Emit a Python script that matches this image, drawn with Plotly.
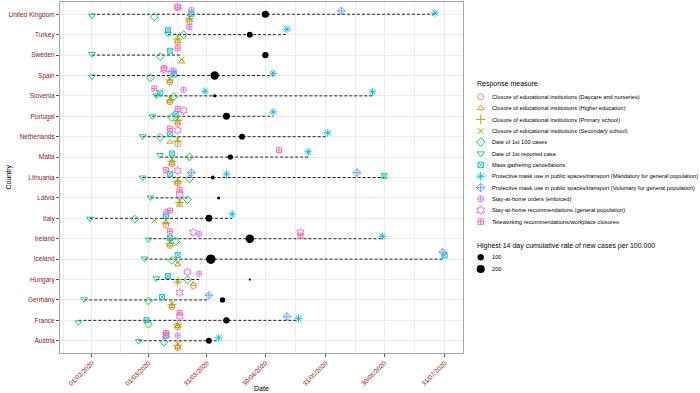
import numpy as np
import pandas as pd
import plotly.graph_objects as go

# ---------------- DATA ----------------
# countries from bottom to top
COUNTRIES = ["Austria", "France", "Germany", "Hungary", "Iceland", "Ireland", "Italy",
             "Latvia", "Lithuania", "Malta", "Netherlands", "Portugal", "Slovenia",
             "Spain", "Sweden", "Turkey", "United Kingdom"]

TICK_DATES = ["2020-02-01", "2020-03-01", "2020-03-31", "2020-04-30",
              "2020-05-31", "2020-06-30", "2020-07-31"]

MEASURES = [
    "Closure of educational institutions (Daycare and nurseries)",
    "Closure of educational institutions (Higher education)",
    "Closure of educational institutions (Primary school)",
    "Closure of educational institutions (Secondary school)",
    "Date of 1st 100 cases",
    "Date of 1st reported case",
    "Mass gathering cancellations",
    "Protective mask use in public spaces/transport (Mandatory for general population)",
    "Protective mask use in public spaces/transport (Voluntary for general population)",
    "Stay-at-home orders (enforced)",
    "Stay-at-home recommendations (general population)",
    "Teleworking recommendations/workplace closures",
]

DAYCARE = [("United Kingdom", "2020-03-22"), ("Turkey", "2020-03-16"), ("Spain", "2020-03-12"),
           ("Slovenia", "2020-03-12"), ("Portugal", "2020-03-16"), ("Netherlands", "2020-03-16"),
           ("Malta", "2020-03-13"), ("Lithuania", "2020-03-16"), ("Italy", "2020-03-10"),
           ("Ireland", "2020-03-12"), ("Hungary", "2020-03-24"), ("Germany", "2020-03-13"),
           ("France", "2020-03-16"), ("Austria", "2020-03-16")]
DAYCARE_JITTER = [-0.36, -0.37, -0.33, -0.31, -0.36, -0.37, -0.34, -0.28, -0.35, -0.34, -0.32, -0.36, -0.33, -0.35]

HIGHER_ED = [("United Kingdom", "2020-03-22"), ("Turkey", "2020-03-16"), ("Sweden", "2020-03-18"),
             ("Spain", "2020-03-12"), ("Slovenia", "2020-03-12"), ("Portugal", "2020-03-16"),
             ("Netherlands", "2020-03-12"), ("Malta", "2020-03-13"), ("Lithuania", "2020-03-16"),
             ("Latvia", "2020-03-17"), ("Italy", "2020-03-10"), ("Ireland", "2020-03-12"),
             ("Iceland", "2020-03-16"), ("Hungary", "2020-03-24"), ("Germany", "2020-03-13"),
             ("France", "2020-03-16"), ("Austria", "2020-03-16")]
HIGHER_ED_JITTER = [-0.27, -0.30, -0.32, -0.27, -0.25, -0.30, -0.25, -0.30, -0.24, -0.34, -0.20, -0.28, -0.26, -0.23, -0.30, -0.28, -0.30]

PRIMARY = [("United Kingdom", "2020-03-22"), ("Turkey", "2020-03-16"), ("Spain", "2020-03-12"),
           ("Slovenia", "2020-03-12"), ("Portugal", "2020-03-16"), ("Netherlands", "2020-03-16"),
           ("Malta", "2020-03-13"), ("Lithuania", "2020-03-16"), ("Latvia", "2020-03-17"),
           ("Italy", "2020-03-10"), ("Ireland", "2020-03-12"), ("Hungary", "2020-03-16"),
           ("Germany", "2020-03-13"), ("France", "2020-03-16"), ("Austria", "2020-03-16")]
PRIMARY_JITTER = [-0.22, -0.22, -0.22, -0.20, -0.20, -0.22, -0.20, -0.20, -0.22, -0.22, -0.22, -0.12, -0.22, -0.20, -0.22]

SECONDARY = [("United Kingdom", "2020-03-22"), ("Turkey", "2020-03-16"), ("Sweden", "2020-03-18"),
             ("Spain", "2020-03-12"), ("Slovenia", "2020-03-12"), ("Portugal", "2020-03-16"),
             ("Netherlands", "2020-03-16"), ("Malta", "2020-03-13"), ("Lithuania", "2020-03-16"),
             ("Latvia", "2020-03-17"), ("Italy", "2020-03-04"), ("Ireland", "2020-03-12"),
             ("Iceland", "2020-03-16"), ("Hungary", "2020-03-16"), ("Germany", "2020-03-13"),
             ("France", "2020-03-16"), ("Austria", "2020-03-16")]
SECONDARY_JITTER = [-0.17, -0.06, -0.22, -0.17, -0.13, -0.10, -0.12, -0.10, -0.07, -0.14, -0.12, -0.15, -0.15, -0.12, -0.18, -0.20, -0.16]

FIRST_100 = [("United Kingdom", "2020-03-04"), ("Turkey", "2020-03-19"), ("Sweden", "2020-03-07"),
             ("Spain", "2020-03-02"), ("Slovenia", "2020-03-14"), ("Portugal", "2020-03-13"),
             ("Netherlands", "2020-03-07"), ("Malta", "2020-03-22"), ("Lithuania", "2020-03-22"),
             ("Latvia", "2020-03-21"), ("Italy", "2020-02-23"), ("Ireland", "2020-03-15"),
             ("Iceland", "2020-03-13"), ("Hungary", "2020-03-21"), ("Germany", "2020-03-01"),
             ("France", "2020-03-01"), ("Austria", "2020-03-09")]
FIRST_100_JITTER = [-0.13, 0.00, -0.08, -0.12, -0.03, -0.06, -0.04, 0.01, -0.07, -0.09, -0.04, -0.13, -0.06, -0.02, -0.05, -0.18, -0.07]

FIRST_CASE = [("United Kingdom", "2020-02-01"), ("Turkey", "2020-03-11"), ("Sweden", "2020-02-01"),
              ("Spain", "2020-02-01"), ("Slovenia", "2020-03-05"), ("Portugal", "2020-03-03"),
              ("Netherlands", "2020-02-27"), ("Malta", "2020-03-07"), ("Lithuania", "2020-02-27"),
              ("Latvia", "2020-03-02"), ("Italy", "2020-01-31"), ("Ireland", "2020-03-01"),
              ("Iceland", "2020-02-28"), ("Hungary", "2020-03-05"), ("Germany", "2020-01-28"),
              ("France", "2020-01-25"), ("Austria", "2020-02-25")]
FIRST_CASE_JITTER = [-0.07, 0.05, 0.05, -0.05, 0.02, 0.00, 0.02, 0.10, 0.00, 0.02, -0.02, -0.04, 0.03, 0.06, 0.03, -0.10, -0.02]

MASS_GATHERING = [("United Kingdom", "2020-03-23"), ("Turkey", "2020-03-11"), ("Sweden", "2020-03-12"),
                  ("Spain", "2020-03-14"), ("Slovenia", "2020-03-07"), ("Portugal", "2020-03-15"),
                  ("Netherlands", "2020-03-12"), ("Malta", "2020-03-13"), ("Lithuania", "2020-03-12"),
                  ("Lithuania", "2020-06-30"), ("Italy", "2020-03-10"), ("Ireland", "2020-03-12"),
                  ("Iceland", "2020-03-16"), ("Iceland", "2020-07-31"), ("Hungary", "2020-03-11"),
                  ("Germany", "2020-03-08"), ("France", "2020-02-29"), ("Austria", "2020-03-10")]
MASS_GATHERING_JITTER = [0.02, 0.22, 0.21, 0.04, 0.13, 0.10, 0.12, 0.18, 0.16, 0.07, 0.09, 0.04, 0.20, 0.18, 0.17, 0.15, 0.01, 0.25]

MASK_MANDATORY = [("United Kingdom", "2020-07-26"), ("Turkey", "2020-05-11"), ("Spain", "2020-05-04"),
                  ("Slovenia", "2020-03-30"), ("Slovenia", "2020-06-24"), ("Portugal", "2020-05-04"),
                  ("Netherlands", "2020-06-01"), ("Malta", "2020-05-22"), ("Lithuania", "2020-04-10"),
                  ("Italy", "2020-04-13"), ("Ireland", "2020-06-29"), ("France", "2020-05-17"),
                  ("Austria", "2020-04-06")]
MASK_MANDATORY_JITTER = [0.06, 0.27, 0.11, 0.23, 0.20, 0.21, 0.19, 0.26, 0.17, 0.21, 0.12, 0.10, 0.14]

MASK_VOLUNTARY = [("United Kingdom", "2020-06-08"), ("Spain", "2020-03-13"), ("Lithuania", "2020-03-23"),
                  ("Lithuania", "2020-06-16"), ("Iceland", "2020-07-30"), ("Germany", "2020-04-01"),
                  ("France", "2020-05-11")]
MASK_VOLUNTARY_JITTER = [0.16, 0.19, 0.24, 0.24, 0.34, 0.23, 0.18]

STAY_HOME_ORDERS = [("United Kingdom", "2020-03-23"), ("Spain", "2020-03-14"), ("Slovenia", "2020-03-19"),
                    ("Italy", "2020-03-10"), ("Ireland", "2020-03-27"), ("Hungary", "2020-03-27"),
                    ("Austria", "2020-03-16")]
STAY_HOME_ORDERS_JITTER = [0.21, 0.24, 0.30, 0.31, 0.23, 0.29, 0.25]

STAY_HOME_REC = [("United Kingdom", "2020-03-16"), ("Spain", "2020-03-09"), ("Portugal", "2020-03-19"),
                 ("Netherlands", "2020-03-16"), ("Lithuania", "2020-03-16"), ("Latvia", "2020-03-17"),
                 ("Ireland", "2020-03-24"), ("Ireland", "2020-05-18"), ("Hungary", "2020-03-21"),
                 ("Germany", "2020-03-17"), ("France", "2020-03-17"), ("Austria", "2020-03-10")]
STAY_HOME_REC_JITTER = [0.37, 0.29, 0.29, 0.32, 0.33, 0.19, 0.31, 0.31, 0.37, 0.36, 0.21, 0.28]

TELEWORKING = [("United Kingdom", "2020-03-16"), ("Turkey", "2020-03-22"), ("Sweden", "2020-03-16"),
               ("Spain", "2020-03-09"), ("Slovenia", "2020-03-04"), ("Portugal", "2020-03-16"),
               ("Netherlands", "2020-03-12"), ("Malta", "2020-05-07"), ("Lithuania", "2020-03-10"),
               ("Latvia", "2020-03-17"), ("Italy", "2020-03-12"), ("Ireland", "2020-03-12"),
               ("Ireland", "2020-05-18"), ("France", "2020-03-17"), ("Austria", "2020-03-10")]
TELEWORKING_JITTER = [0.32, 0.38, 0.33, 0.37, 0.36, 0.36, 0.40, 0.34, 0.37, 0.40, 0.38, 0.36, 0.15, 0.37, 0.38]

# highest 14-day cumulative rate (date and value), same order as COUNTRIES
PEAK_DATES = ["2020-04-01", "2020-04-10", "2020-04-08", "2020-04-22", "2020-04-02", "2020-04-22",
              "2020-04-01", "2020-04-06", "2020-04-03", "2020-04-12", "2020-04-18", "2020-04-10",
              "2020-04-04", "2020-04-04", "2020-04-30", "2020-04-22", "2020-04-30"]
PEAK_RATES = [79, 100, 60, 8, 290, 215, 124, 11, 21, 60, 79, 124, 14, 215, 100, 79, 135]

SIZE_BREAKS = [100, 200]

# ---------------- STYLE ----------------
MEASURE_DATA = [(DAYCARE, DAYCARE_JITTER), (HIGHER_ED, HIGHER_ED_JITTER), (PRIMARY, PRIMARY_JITTER),
                (SECONDARY, SECONDARY_JITTER), (FIRST_100, FIRST_100_JITTER), (FIRST_CASE, FIRST_CASE_JITTER),
                (MASS_GATHERING, MASS_GATHERING_JITTER), (MASK_MANDATORY, MASK_MANDATORY_JITTER),
                (MASK_VOLUNTARY, MASK_VOLUNTARY_JITTER), (STAY_HOME_ORDERS, STAY_HOME_ORDERS_JITTER),
                (STAY_HOME_REC, STAY_HOME_REC_JITTER), (TELEWORKING, TELEWORKING_JITTER)]
COLORS = ["#F8766D", "#DE8C00", "#B79F00", "#7CAE00", "#00BA38", "#00C08B",
          "#00BFC4", "#00B4F0", "#619CFF", "#C77CFF", "#F564E3", "#FF64B0"]
SYMBOLS = ["circle-open", "triangle-up-open", "cross-thin-open", "x-thin-open", "diamond-open",
           "triangle-down-open", "square-x-open", "asterisk-open", "diamond-cross-open",
           "circle-cross-open", "hexagram-open", "square-cross-open"]
SYM_SIZE = [5.5, 5.5, 6.5, 5.5, 6, 6, 5, 6.5, 6, 5.5, 6.3, 5]
FONT = "Liberation Sans, Arial, sans-serif"
LABEL_RED = "#8B1A1A"

W, H = 700, 393
PX_L, PX_R, PX_T, PX_B = 60, 463, 2, 353

yidx = {c: i + 1 for i, c in enumerate(COUNTRIES)}

vmin, vmax = min(PEAK_RATES), max(PEAK_RATES)
def dot_size(v):
    return 2.2 + 7.3 * np.sqrt((np.asarray(v, dtype=float) - vmin) / (vmax - vmin))

fig = go.Figure()

# dashed segments: first to last response date per country
all_rows = []
for recs, _ in MEASURE_DATA:
    all_rows += recs
df_all = pd.DataFrame(all_rows, columns=["country", "date"])
df_all["date"] = pd.to_datetime(df_all["date"])
seg_x, seg_y = [], []
for c in COUNTRIES:
    d = df_all.loc[df_all.country == c, "date"]
    seg_x += [d.min(), d.max(), None]
    seg_y += [yidx[c], yidx[c], None]
fig.add_trace(go.Scatter(x=seg_x, y=seg_y, mode="lines",
                         line=dict(color="#222222", width=1, dash="3px,2px"),
                         hoverinfo="skip", showlegend=False))

# peak rate dots
fig.add_trace(go.Scatter(x=pd.to_datetime(PEAK_DATES), y=[yidx[c] for c in COUNTRIES],
                         mode="markers", marker=dict(color="black", size=dot_size(PEAK_RATES),
                                                     opacity=1, line=dict(width=0)),
                         hoverinfo="skip", showlegend=False))

# response measures
for (recs, jit), name, col, sym, sz in zip(MEASURE_DATA, MEASURES, COLORS, SYMBOLS, SYM_SIZE):
    xs = pd.to_datetime([r[1] for r in recs])
    ys = [yidx[r[0]] + j for r, j in zip(recs, jit)]
    fig.add_trace(go.Scatter(x=xs, y=ys, mode="markers", name=name,
                             marker=dict(symbol=sym, size=sz, color=col, opacity=1,
                                         line=dict(color=col, width=0.9)),
                             hoverinfo="skip", showlegend=False))

# ---------------- manual legends (pixel overlay axes) ----------------
LEG_X_SYM, LEG_X_TXT, LEG_X_TITLE = 480.7, 490, 474.7
LEG_Y0, LEG_STEP = 96.8, 11.35
for i, (name, col, sym, sz) in enumerate(zip(MEASURES, COLORS, SYMBOLS, SYM_SIZE)):
    yy = LEG_Y0 + i * LEG_STEP
    fig.add_trace(go.Scatter(x=[LEG_X_SYM], y=[yy], xaxis="x2", yaxis="y2", mode="markers",
                             marker=dict(symbol=sym, size=sz + 0.5, color=col, opacity=1,
                                         line=dict(color=col, width=0.9)),
                             hoverinfo="skip", showlegend=False))
    fig.add_annotation(x=LEG_X_TXT, y=yy, xref="x2", yref="y2", text=name, showarrow=False,
                       xanchor="left", yanchor="middle", font=dict(family=FONT, size=5.7, color="black"))
fig.add_annotation(x=LEG_X_TITLE, y=84.3, xref="x2", yref="y2", text="Response measure", showarrow=False,
                   xanchor="left", yanchor="middle", font=dict(family=FONT, size=7, color="black"))

fig.add_annotation(x=LEG_X_TITLE, y=245.7, xref="x2", yref="y2",
                   text="Highest 14 day cumulative rate of new cases per 100.000", showarrow=False,
                   xanchor="left", yanchor="middle", font=dict(family=FONT, size=7, color="black"))
for k, b in enumerate(SIZE_BREAKS):
    yy = 257.3 + k * 11.7
    fig.add_trace(go.Scatter(x=[LEG_X_SYM], y=[yy], xaxis="x2", yaxis="y2", mode="markers",
                             marker=dict(color="black", size=float(dot_size(b)), opacity=1, line=dict(width=0)),
                             hoverinfo="skip", showlegend=False))
    fig.add_annotation(x=LEG_X_TXT, y=yy, xref="x2", yref="y2", text=str(b), showarrow=False,
                       xanchor="left", yanchor="middle", font=dict(family=FONT, size=5.7, color="black"))

# axis titles
fig.add_annotation(x=(PX_L + PX_R) / 2, y=388.5, xref="x2", yref="y2", text="Date", showarrow=False,
                   xanchor="center", yanchor="middle", font=dict(family=FONT, size=7, color="black"))
fig.add_annotation(x=8, y=(PX_T + PX_B) / 2, xref="x2", yref="y2", text="Country", showarrow=False,
                   textangle=-90, xanchor="center", yanchor="middle",
                   font=dict(family=FONT, size=7, color="black"))

# ---------------- axes ----------------
ticks = pd.to_datetime(TICK_DATES)
gaps = ticks[1:] - ticks[:-1]
minor = list(ticks[:-1] + gaps / 2)
minor = [ticks[0] - gaps[0] / 2] + minor + [ticks[-1] + gaps[-1] / 2]

dmin = min(df_all["date"].min(), pd.to_datetime(PEAK_DATES).min())
dmax = max(df_all["date"].max(), pd.to_datetime(PEAK_DATES).max())
pad = (dmax - dmin) * 0.05

fig.update_layout(
    width=W, height=H, autosize=False,
    margin=dict(l=0, r=0, t=0, b=0, pad=0),
    paper_bgcolor="white", plot_bgcolor="rgba(0,0,0,0)",
    font=dict(family=FONT, color="black"),
    showlegend=False,
    xaxis=dict(type="date", domain=[PX_L / W, PX_R / W], range=[dmin - pad, dmax + pad],
               anchor="y",
               tickvals=list(ticks), ticktext=[t.strftime("%d/%m/%Y") for t in ticks],
               tickangle=-45, tickfont=dict(family=FONT, size=6.4, color=LABEL_RED),
               showgrid=True, gridcolor="#EBEBEB", gridwidth=1,
               minor=dict(tickvals=minor, showgrid=True, gridcolor="#EBEBEB", gridwidth=0.5, ticks=""),
               ticks="outside", ticklen=3, tickcolor="#555555", tickwidth=0.8,
               showline=True, mirror=True, linecolor="#A8A8A8", linewidth=1,
               zeroline=False, automargin=False, fixedrange=True),
    yaxis=dict(domain=[1 - PX_B / H, 1 - PX_T / H], range=[0.4, len(COUNTRIES) + 0.6],
               anchor="x",
               tickvals=[yidx[c] for c in COUNTRIES], ticktext=COUNTRIES,
               tickfont=dict(family=FONT, size=6.5, color=LABEL_RED),
               showgrid=True, gridcolor="#EBEBEB", gridwidth=1,
               ticks="outside", ticklen=3, tickcolor="#555555", tickwidth=0.8,
               showline=True, mirror=True, linecolor="#A8A8A8", linewidth=1,
               zeroline=False, automargin=False, fixedrange=True),
    xaxis2=dict(domain=[0, 1], range=[0, W], visible=False, fixedrange=True, anchor="y2"),
    yaxis2=dict(domain=[0, 1], range=[H, 0], visible=False, fixedrange=True, anchor="x2"),
)

fig.write_html("out.html", config={"displayModeBar": False},
               post_script="document.body.style.margin='0';")
